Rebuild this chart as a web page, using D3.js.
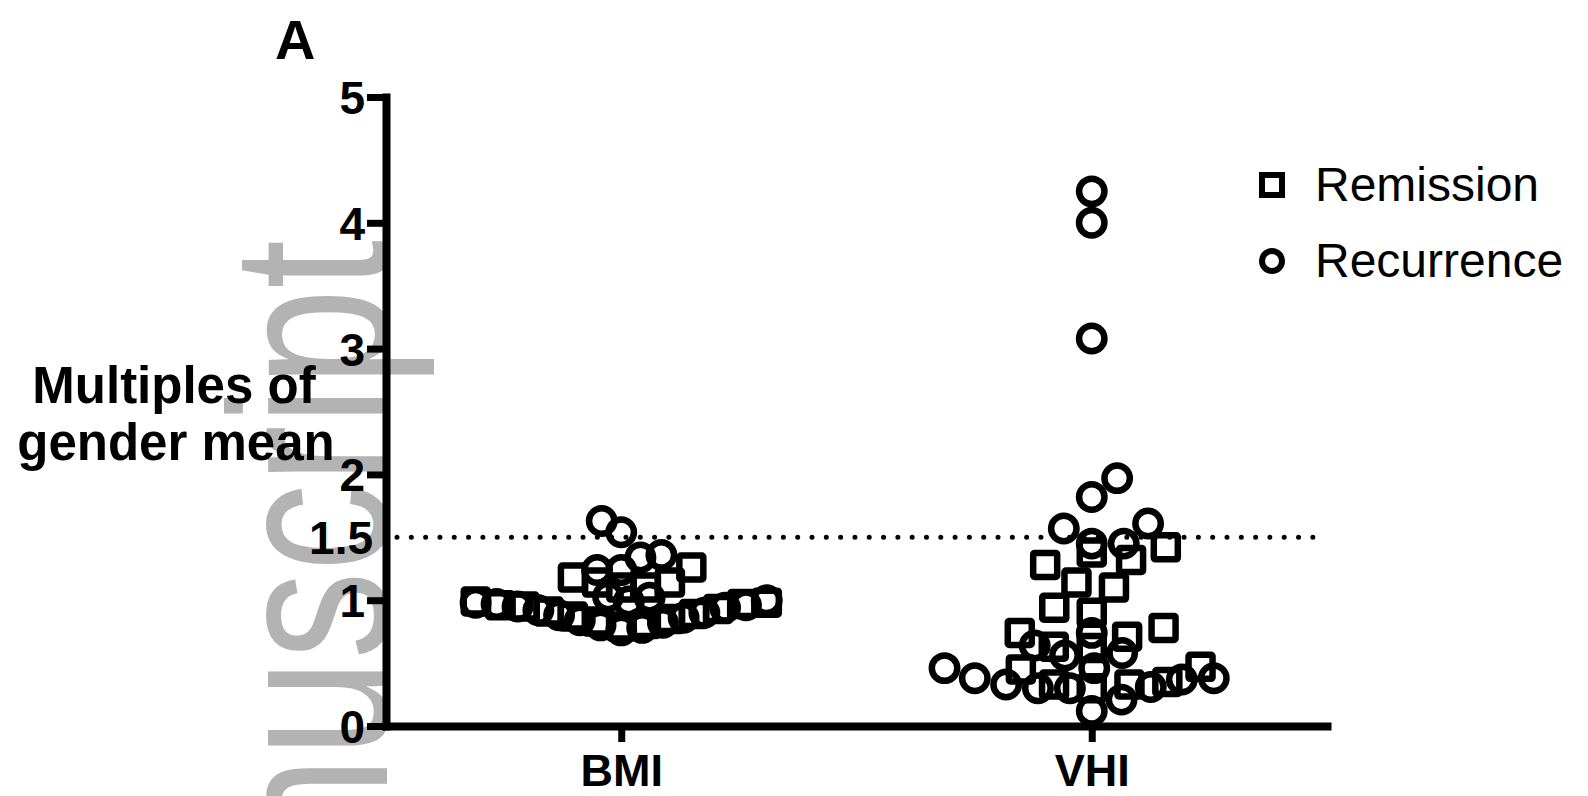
<!DOCTYPE html>
<html>
<head>
<meta charset="utf-8">
<script src="https://cdn.jsdelivr.net/npm/d3@7"></script>
<style>
  body { margin: 0; background: #fff; }
  svg { display: block; }
</style>
</head>
<body>
<script>
// values (multiples of gender mean)
const categories = ["BMI", "VHI"];
const seriesNames = ["Remission", "Recurrence"];
const yTicks = [0, 1, 2, 3, 4, 5];
const cutoff = 1.5;

const bmiRemission = [1.18, 1.14, 1.10, 1.10, 1.14, 1.26, 0.99, 0.98, 0.97, 0.96, 0.95, 0.93, 0.91, 0.89, 0.87, 0.85, 0.83, 0.81, 0.79];
const bmiRecurrence = [1.34, 1.24, 1.54, 1.63, 1.24, 1.36, 1.02, 1.03, 1.00, 0.99, 0.98, 0.97, 0.96, 0.95, 0.94, 0.92, 0.90, 0.88, 0.86, 0.84, 0.82, 0.80, 0.78, 0.76];
const vhiRemission = [1.32, 1.42, 1.28, 1.38, 1.14, 1.10, 0.94, 0.90, 0.78, 0.74, 0.71, 0.63, 0.62, 0.47, 0.45, 0.30, 0.33, 0.33, 0.35];
const vhiRecurrence = [4.25, 4.00, 3.08, 1.97, 1.82, 1.61, 1.45, 1.45, 1.57, 0.74, 0.58, 0.56, 0.64, 0.38, 0.37, 0.31, 0.30, 0.33, 0.46, 0.46, 0.30, 0.38, 0.21, 0.12];

const width = 1588, height = 796;
const font = "'Liberation Sans', Arial, Helvetica, sans-serif";

let svg = d3.select("body").append("svg")
    .attr("width", width)
    .attr("height", height);

let x = d3.scalePoint().domain(categories).range([386, 1327]).padding(0.5);
let y = d3.scaleLinear().domain([0, 5]).range([726, 97]);

// watermark behind everything (narrow sans, reads bottom to top)
svg.append("text")
    .attr("transform", "translate(387,240) rotate(-90) scale(0.78,1)")
    .attr("text-anchor", "end")
    .attr("font-family", font)
    .attr("font-size", 225)
    .attr("fill", "#b3b3b3")
    .text("Author Manuscript");

// greedy beeswarm, lowest values first, each point as near the centre as it fits.
// rows collide over a fixed height, horizontal spacing shrinks until the swarm fits
function swarm(points, maxHalf, maxDx, Dy) {
    let sorted = points.slice().sort((a, b) => a.value - b.value);
    function place(Dx) {
        let placed = [], widest = 0, left = 0, right = 0;
        sorted.forEach(p => {
            let py = y(p.value);
            let blocks = [];
            placed.forEach(q => {
                let dy = Math.abs(q.py - py);
                if (dy < Dy) {
                    let h = Dx * Math.sqrt(1 - (dy / Dy) * (dy / Dy));
                    blocks.push([q.dx - h, q.dx + h]);
                }
            });
            let cands = [0];
            blocks.forEach(b => cands.push(b[0], b[1]));
            let free = cands.filter(c => blocks.every(b => c <= b[0] + 1e-6 || c >= b[1] - 1e-6));
            let preferLeft = right > left;
            free.sort((a, b) => {
                let d = Math.round(Math.abs(a) * 10) - Math.round(Math.abs(b) * 10);
                if (d !== 0) return d;
                return preferLeft ? a - b : b - a;
            });
            let dx = free[0];
            if (dx > 0.5) right++; else if (dx < -0.5) left++;
            placed.push({...p, py: py, dx: dx});
            widest = Math.max(widest, Math.abs(dx));
        });
        return {placed, widest};
    }
    let Dx = maxDx;
    let res = place(Dx);
    while (res.widest > maxHalf && Dx > 4) {
        Dx -= 0.5;
        res = place(Dx);
    }
    return res.placed;
}

let groups = [
    {cat: "BMI", values: [bmiRemission, bmiRecurrence]},
    {cat: "VHI", values: [vhiRemission, vhiRecurrence]}
];
let points = [];
groups.forEach(g => {
    g.values.forEach((vals, si) => {
        let pts = vals.map(v => ({cat: g.cat, series: seriesNames[si], value: v}));
        points = points.concat(swarm(pts, 148, 38, 31));
    });
});

// dotted cut-off line
svg.append("line")
    .attr("x1", 397).attr("x2", 1322)
    .attr("y1", y(cutoff)).attr("y2", y(cutoff))
    .attr("stroke", "#000")
    .attr("stroke-width", 5)
    .attr("stroke-linecap", "round")
    .attr("stroke-dasharray", "0.01 14.3");

// axes
let yAxis = svg.append("g")
    .attr("transform", `translate(${x.range()[0]},0)`)
    .call(d3.axisLeft(y).tickValues(yTicks).tickFormat(d3.format("d"))
        .tickSize(19).tickSizeOuter(0).tickPadding(2));
let xAxis = svg.append("g")
    .attr("transform", `translate(0,${y(0)})`)
    .call(d3.axisBottom(x).tickSize(16).tickSizeOuter(0).tickPadding(12));

[yAxis, xAxis].forEach(ax => {
    ax.select(".domain").attr("stroke-width", 8).attr("stroke-linecap", "square");
    ax.selectAll(".tick line").attr("stroke-width", 7);
    ax.selectAll("text")
        .attr("font-family", font)
        .attr("font-weight", "bold")
        .attr("font-size", 46)
        .attr("fill", "#000");
});
yAxis.selectAll("text").attr("dy", "0.36em");
xAxis.selectAll("text").attr("font-size", 45).attr("dy", "0.72em");

// 1.5 label, no tick mark
svg.append("text")
    .attr("x", 373).attr("y", y(cutoff))
    .attr("dy", "0.36em")
    .attr("text-anchor", "end")
    .attr("font-family", font)
    .attr("font-weight", "bold")
    .attr("font-size", 46)
    .text("1.5");

// markers
let markers = svg.append("g")
    .attr("fill", "none")
    .attr("stroke", "#000")
    .attr("stroke-width", 6.5);

markers.selectAll("rect")
    .data(points.filter(p => p.series === seriesNames[0]))
    .join("rect")
    .attr("x", p => x(p.cat) + p.dx - 12)
    .attr("y", p => y(p.value) - 12)
    .attr("width", 24)
    .attr("height", 24)
    .attr("rx", 1.5);

markers.selectAll("circle")
    .data(points.filter(p => p.series === seriesNames[1]))
    .join("circle")
    .attr("cx", p => x(p.cat) + p.dx)
    .attr("cy", p => y(p.value))
    .attr("r", 12.7);

// titles
svg.append("text")
    .attr("x", 275).attr("y", 59)
    .attr("font-family", font)
    .attr("font-weight", "bold")
    .attr("font-size", 56)
    .text("A");

let yTitle = svg.append("text")
    .attr("text-anchor", "middle")
    .attr("font-family", font)
    .attr("font-weight", "bold")
    .attr("font-size", 51);
yTitle.append("tspan").attr("x", 174).attr("y", 403).text("Multiples of");
yTitle.append("tspan").attr("x", 176).attr("y", 460).text("gender mean");

// legend
let legend = svg.append("g");
seriesNames.forEach((name, i) => {
    let ly = 185 + i * 76;
    if (i === 0) {
        legend.append("rect")
            .attr("x", 1272 - 10).attr("y", ly - 10)
            .attr("width", 20).attr("height", 20)
            .attr("fill", "none").attr("stroke", "#000").attr("stroke-width", 6);
    } else {
        legend.append("circle")
            .attr("cx", 1272).attr("cy", ly).attr("r", 10)
            .attr("fill", "none").attr("stroke", "#000").attr("stroke-width", 6);
    }
    legend.append("text")
        .attr("x", 1315).attr("y", ly + 16)
        .attr("font-family", font)
        .attr("font-size", 48)
        .text(name);
});
</script>
</body>
</html>
